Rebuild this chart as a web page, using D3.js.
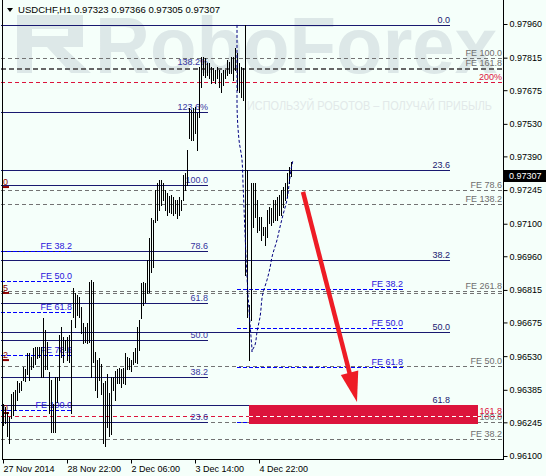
<!DOCTYPE html>
<html><head><meta charset="utf-8">
<script src="https://cdn.jsdelivr.net/npm/d3@7"></script>
<style>body{margin:0;background:#f5fffa}svg{display:block}</style>
</head><body>
<script>
// ---------------- DATA ----------------
const symbolTitle = "USDCHF,H1";
const headerOHLC = [0.97323, 0.97366, 0.97305, 0.97307];
const lastPrice = 0.97307;

const barHigh = [
0.96322,0.96309,0.96291,0.96270,0.96365,0.96377,0.96386,0.96421,0.96416,0.96421,
0.96485,0.96473,0.96545,0.96545,0.96528,0.96567,0.96571,0.96571,0.96571,0.96571,
0.96696,0.96644,0.96592,0.96460,0.96429,0.96322,0.96442,0.96442,0.96623,0.96657,
0.96614,0.96601,0.96614,0.96623,0.96687,0.96825,0.96803,0.96795,0.96786,0.96743,
0.96674,0.96657,0.96674,0.96850,0.96859,0.96850,0.96549,0.96515,0.96523,0.96494,
0.96416,0.96421,0.96451,0.96373,0.96438,0.96442,0.96464,0.96473,0.96481,0.96473,
0.96481,0.96545,0.96528,0.96523,0.96515,0.96549,0.96567,0.96657,0.96687,0.96846,
0.96850,0.96846,0.96945,0.97040,0.97126,0.97117,0.97246,0.97276,0.97289,0.97289,
0.97276,0.97246,0.97233,0.97220,0.97225,0.97216,0.97203,0.97203,0.97216,0.97203,
0.97311,0.97319,0.97418,0.97599,0.97590,0.97599,0.97603,0.97577,0.97775,0.97818,
0.97818,0.97814,0.97792,0.97792,0.97775,0.97771,0.97762,0.97775,0.97762,0.97749,
0.97762,0.97762,0.97805,0.97797,0.97818,0.97818,0.97857,0.97835,0.97792,0.97775,
0.97771,0.97956,0.97332,0.96752,0.97276,0.97276,0.97276,0.97203,0.97130,0.97130,
0.97087,0.97087,0.97160,0.97173,0.97169,0.97203,0.97203,0.97216,0.97225,0.97246,
0.97259,0.97276,0.97319,0.97345,0.97366];
const barLow = [
0.96235,0.96244,0.96184,0.96158,0.96265,0.96278,0.96300,0.96343,0.96377,0.96386,
0.96429,0.96421,0.96451,0.96429,0.96473,0.96485,0.96494,0.96523,0.96528,0.96442,
0.96442,0.96473,0.96473,0.96287,0.96205,0.96205,0.96205,0.96334,0.96429,0.96528,
0.96506,0.96558,0.96515,0.96506,0.96287,0.96700,0.96657,0.96708,0.96700,0.96631,
0.96588,0.96592,0.96588,0.96592,0.96442,0.96506,0.96386,0.96356,0.96429,0.96365,
0.96158,0.96141,0.96227,0.96184,0.96193,0.96386,0.96343,0.96416,0.96416,0.96399,
0.96416,0.96408,0.96473,0.96473,0.96464,0.96494,0.96506,0.96502,0.96558,0.96696,
0.96752,0.96764,0.96803,0.96807,0.96893,0.96915,0.97108,0.97117,0.97160,0.97182,
0.97203,0.97160,0.97138,0.97151,0.97147,0.97138,0.97147,0.97126,0.97138,0.97160,
0.97203,0.97246,0.97268,0.97470,0.97461,0.97461,0.97491,0.97418,0.97560,0.97689,
0.97740,0.97732,0.97740,0.97728,0.97706,0.97719,0.97706,0.97728,0.97689,0.97667,
0.97698,0.97728,0.97740,0.97749,0.97749,0.97719,0.97762,0.97676,0.97667,0.97646,
0.97633,0.96880,0.96700,0.96515,0.96687,0.97087,0.97130,0.97065,0.97074,0.97031,
0.97052,0.97010,0.97044,0.97104,0.97096,0.97108,0.97117,0.97117,0.97138,0.97138,
0.97173,0.97203,0.97216,0.97276,0.97305];

const timeTickIndex = [0, 32, 64, 96, 128];
const timeTickLabels = ["27 Nov 2014", "28 Nov 22:00", "2 Dec 06:00", "3 Dec 14:00", "4 Dec 22:00"];
const priceTicks = [0.97960,0.97815,0.97675,0.97530,0.97390,0.97245,0.97100,0.96960,0.96815,0.96675,0.96530,0.96385,0.96245,0.96100];

// main Fibonacci retracement (full width)
const fibMainHigh = 0.97955, fibMainLow = 0.95312;
const fibMainLevels = [0, 23.6, 38.2, 50, 61.8];
const fibMainLabels = ["0.0", "23.6", "38.2", "50.0", "61.8"];
const fibMainSpan = [-1, 223.5];

// left Fibonacci retracement
const fibLeft100 = 0.97267, fibLeft0 = 0.95932;
const fibLeftLevels = [138.2, 123.6, 100, 78.6, 61.8, 50, 38.2, 23.6];
const fibLeftLabels = ["138.2%", "123.6%", "100.0", "78.6", "61.8", "50.0", "38.2", "23.6"];
const fibLeftSpan = [-1, 102.5];

// blue Fibonacci expansions
const feLeftP0 = 0.97406, feLeftP100 = 0.96298;
const feLeftLevels = [38.2, 50, 61.8, 78.6, 100];
const feLeftSpan = [-1, 34.5];
const feRightP0 = 0.97362, feRightP100 = 0.95941;
const feRightLevels = [38.2, 50, 61.8, 78.6];
const feRightSpan = [117, 200];

// grey expansion levels
const greyLabels = ["FE 100.0", "FE 161.8", "FE 78.6", "FE 138.2", "FE 261.8", "", "FE 50.0", "FE 100.0", "FE 38.2"];
const greyPrices = [0.97814, 0.97771, 0.97245, 0.97185, 0.96810, 0.96802, 0.96488, 0.96246, 0.96173];

// red levels
const redLabels = ["200%", "161.8"];
const redPrices = [0.97710, 0.96272];

// dark red edge markers
const edgeLabels = ["0", "5", "2", "0"];
const edgePrices = [0.97258, 0.96802, 0.96513, 0.96285];

// target zone
const zoneSpan = [123, 237.5];
const zonePrices = [0.96322, 0.96240];

// arrow (bar index, price)
const arrowFrom = [150, 0.97237];
const arrowTo = [177, 0.96333];

// dotted curve (bar index, price)
const curveIdx = [117,117,118,119.5,120,121,122,123,124,124.5,126,127,128.5,130,132,133.5,134.5,137,138.5,140,142,143,144,145];
const curvePrice = [0.97956,0.97633,0.97461,0.97375,0.97276,0.97060,0.96871,0.96729,0.96613,0.96548,0.96578,0.96634,0.96698,0.96802,0.96858,0.96910,0.96957,0.97030,0.97086,0.97138,0.97203,0.97267,0.97332,0.97375];

// ---------------- DRAW ----------------
const W = 546, H = 476;
const FONT = '"Liberation Sans", Arial, sans-serif';
const NAVY = '#191970', GREY = '#6e6e6e', BLUE = '#0000ff', BLUE_T = '#2a14dc', RED = '#dc143c';

const x = d3.scaleLinear().domain([0, 250]).range([3, 503]);
const y = d3.scaleLinear().domain([0.96100, 0.97960]).range([456, 24]);
const px = v => Math.round(v) + 0.5;

const svg = d3.select('body').append('svg').attr('width', W).attr('height', H)
  .style('font-family', FONT);
svg.append('rect').attr('width', W).attr('height', H).attr('fill', '#f5fffa');

// watermark
const wm = svg.append('g').attr('fill', '#dde8e8');
wm.append('path').attr('fill-rule', 'evenodd')
  .attr('d', 'M17,15 H83 V47 H63 L91,73 H71 L47,47 H32 V73 H17 Z M32,29 H68 V36 H32 Z');
wm.append('text').attr('x', 95).attr('y', 73).attr('font-size', 80).attr('font-weight', 'bold')
  .attr('textLength', 402).attr('lengthAdjust', 'spacingAndGlyphs').text('RoboForex');
wm.append('text').attr('x', 247).attr('y', 110).attr('font-size', 12).attr('fill', '#e2e9e9')
  .attr('textLength', 245).attr('lengthAdjust', 'spacingAndGlyphs').text('ИСПОЛЬЗУЙ РОБОТОВ – ПОЛУЧАЙ ПРИБЫЛЬ');

const lines = svg.append('g').attr('shape-rendering', 'crispEdges');
function hline(price, i1, i2, color, w, dash) {
  return lines.append('line').attr('x1', x(i1)).attr('x2', x(i2))
    .attr('y1', px(y(price))).attr('y2', px(y(price)))
    .attr('stroke', color).attr('stroke-width', w).attr('stroke-dasharray', dash || null);
}
const labels = svg.append('g').attr('font-size', 9);
function label(txt, xx, price, color, anchor) {
  return labels.append('text').attr('x', xx).attr('y', Math.round(y(price)) - 2)
    .attr('text-anchor', anchor || 'end').attr('fill', color).text(txt);
}

// grey dashed levels
greyPrices.forEach((p, i) => {
  const thick = i === 1;
  hline(p, -1, 250, thick ? '#666' : '#737373', thick ? 2 : 1, thick ? '5,3' : '4,3');
});
// red dashed
redPrices.forEach(p => hline(p, -1, 250, RED, 1, '4,3'));

// target zone box
svg.append('rect').attr('x', x(zoneSpan[0])).attr('width', x(zoneSpan[1]) - x(zoneSpan[0]))
  .attr('y', Math.round(y(zonePrices[0])) + 1).attr('height', Math.round(y(zonePrices[1])) - Math.round(y(zonePrices[0])))
  .attr('fill', RED);
svg.append('line').attr('x1', x(zoneSpan[0])).attr('x2', x(zoneSpan[1]))
  .attr('y1', px(y(redPrices[1]))).attr('y2', px(y(redPrices[1])))
  .attr('stroke', '#fff').attr('stroke-dasharray', '4,3').attr('shape-rendering', 'crispEdges');

// main fib
fibMainLevels.forEach(r => hline(fibMainHigh - r / 100 * (fibMainHigh - fibMainLow), fibMainSpan[0], fibMainSpan[1], NAVY, 1));
// left fib
fibLeftLevels.forEach(r => { if (r < 130) hline(fibLeft0 + r / 100 * (fibLeft100 - fibLeft0), fibLeftSpan[0], fibLeftSpan[1], NAVY, 1); });
// blue expansions
feLeftLevels.forEach(r => hline(feLeftP0 - r / 100 * (feLeftP0 - feLeftP100), feLeftSpan[0], feLeftSpan[1], BLUE, 1, '4,2'));
feRightLevels.forEach(r => hline(feRightP0 - r / 100 * (feRightP0 - feRightP100), feRightSpan[0], feRightSpan[1], BLUE, 1, '4,2'));

// dark red edge markers
edgePrices.forEach((p, i) => {
  svg.append('line').attr('x1', 3).attr('x2', 9).attr('y1', y(p)).attr('y2', y(p))
    .attr('stroke', '#8b0000').attr('stroke-width', 2);
  svg.append('text').attr('x', 3).attr('y', y(p) - 2).attr('font-size', 9).attr('fill', '#8b0000').text(edgeLabels[i]);
});

// labels
fibLeftLevels.forEach((r, i) => label(fibLeftLabels[i], x(fibLeftSpan[1]), fibLeft0 + r / 100 * (fibLeft100 - fibLeft0), '#3535a0'));
fibMainLevels.forEach((r, i) => label(fibMainLabels[i], x(fibMainSpan[1]), fibMainHigh - r / 100 * (fibMainHigh - fibMainLow), NAVY));
greyPrices.forEach((p, i) => { if (greyLabels[i]) label(greyLabels[i], 502, p, GREY); });
redPrices.forEach((p, i) => label(redLabels[i], 502, p, RED));
feLeftLevels.forEach(r => label('FE ' + r.toFixed(1), x(feLeftSpan[1]), feLeftP0 - r / 100 * (feLeftP0 - feLeftP100), BLUE_T));
feRightLevels.forEach(r => {
  const t = label('FE ' + r.toFixed(1), x(feRightSpan[1]), feRightP0 - r / 100 * (feRightP0 - feRightP100), BLUE_T);
  if (r === 78.6) {
    const b = t.node().getBBox();
    labels.insert('rect', () => t.node()).attr('x', b.x - 1).attr('y', b.y).attr('width', b.width + 2).attr('height', b.height).attr('fill', '#fff');
  }
});

// bars
svg.append('g').attr('shape-rendering', 'crispEdges').selectAll('line').data(barHigh).join('line')
  .attr('x1', (d, i) => px(x(i))).attr('x2', (d, i) => px(x(i)))
  .attr('y1', d => Math.round(y(d))).attr('y2', (d, i) => Math.round(y(barLow[i])) + 1)
  .attr('stroke', '#000').attr('stroke-width', 1);

// dotted curve
svg.append('path').datum(curveIdx.map((d, i) => [d, curvePrice[i]]))
  .attr('d', d3.line().x(d => x(d[0])).y(d => y(d[1])).curve(d3.curveMonotoneY))
  .attr('fill', 'none').attr('stroke', '#000080').attr('stroke-width', 1).attr('stroke-dasharray', '3,2');

// arrow
{
  const x0 = x(arrowFrom[0]), y0 = y(arrowFrom[1]), x1 = x(arrowTo[0]), y1 = y(arrowTo[1]);
  const len = Math.hypot(x1 - x0, y1 - y0), ux = (x1 - x0) / len, uy = (y1 - y0) / len;
  const hl = 30, hw = 9, bx = x1 - ux * hl, by = y1 - uy * hl;
  svg.append('line').attr('x1', x0).attr('y1', y0).attr('x2', bx + ux * 2).attr('y2', by + uy * 2)
    .attr('stroke', '#ee1c25').attr('stroke-width', 4.5);
  svg.append('path').attr('d', `M${x1},${y1} L${bx - uy * hw},${by + ux * hw} L${bx + uy * hw},${by - ux * hw} Z`)
    .attr('fill', '#ee1c25');
}

// frame
const frame = svg.append('g').attr('stroke', '#000').attr('shape-rendering', 'crispEdges');
frame.append('line').attr('x1', 2.5).attr('x2', 2.5).attr('y1', 0).attr('y2', 460);
frame.append('line').attr('x1', 503.5).attr('x2', 503.5).attr('y1', 0).attr('y2', 460);
frame.append('line').attr('x1', 2).attr('x2', 504).attr('y1', 459.5).attr('y2', 459.5);

// right axis
const ya = svg.append('g').attr('transform', 'translate(503.5,0)')
  .call(d3.axisRight(y).tickValues(priceTicks).tickFormat(d3.format('.5f')).tickSize(4).tickPadding(2));
ya.select('.domain').remove();
ya.attr('font-family', null).attr('font-size', 9);
ya.selectAll('text').attr('fill', '#000');

// bottom axis
const xa = svg.append('g').attr('transform', 'translate(0,459.5)')
  .call(d3.axisBottom(x).tickValues(timeTickIndex).tickFormat((d, i) => timeTickLabels[i]).tickSize(4).tickPadding(2));
xa.select('.domain').remove();
xa.attr('font-family', null).attr('font-size', 9);
xa.selectAll('text').attr('text-anchor', 'start').attr('fill', '#000');

// current price tag
svg.append('rect').attr('x', 504).attr('y', Math.round(y(lastPrice)) - 6).attr('width', 42).attr('height', 12).attr('fill', '#000');
svg.append('text').attr('x', 509).attr('y', y(lastPrice)).attr('dy', '0.32em').attr('font-size', 9)
  .attr('fill', '#fff').text(d3.format('.5f')(lastPrice));

// title
svg.append('path').attr('d', 'M7,8 L13,8 L10,12 Z').attr('fill', '#000');
svg.append('text').attr('x', 18).attr('y', 13).attr('font-size', 9.5).attr('fill', '#000')
  .attr('textLength', 202).attr('lengthAdjust', 'spacingAndGlyphs')
  .text(symbolTitle + '  ' + headerOHLC.map(d3.format('.5f')).join(' '));
</script>
</body></html>
